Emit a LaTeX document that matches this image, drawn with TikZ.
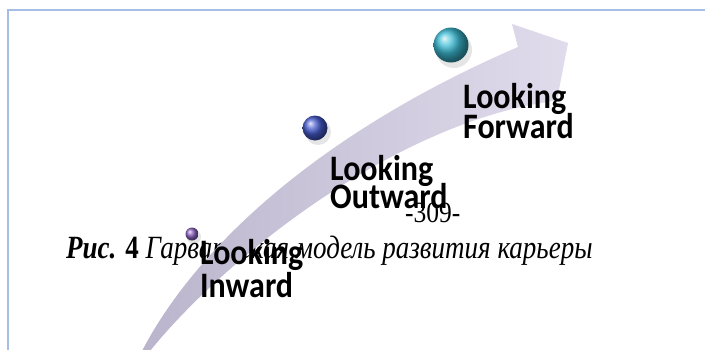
\documentclass[tikz,border=0pt]{standalone}
\usepackage{graphicx}
\usepackage{fontspec}
\setmainfont{Liberation Serif}
\newfontfamily\lblfont{Carlito}
\newcommand\vstretch[2]{\scalebox{1}[#1]{#2}}
\definecolor{framec}{RGB}{166,190,230}
\definecolor{arrowA}{RGB}{186,181,204}
\definecolor{arrowB}{RGB}{224,220,236}
\definecolor{ballP}{RGB}{140,100,192}
\definecolor{ballB}{RGB}{70,90,205}
\definecolor{ballT}{RGB}{60,188,212}
\tikzset{
  lbl/.style={anchor=base west, inner sep=0pt, font=\lblfont\bfseries\fontsize{32}{34}\selectfont},
  captxt/.style={anchor=base west, inner sep=0pt, font=\fontsize{27}{30}\selectfont},
  pagenum/.style={anchor=base west, inner sep=0pt, font=\fontsize{25.5}{28}\selectfont},
  frameline/.style={draw=framec, line width=2pt},
  shadowc/.style={fill=black, opacity=0.10}
}
\begin{document}
\begin{tikzpicture}[x=1pt,y=-1pt]
\useasboundingbox (0,0) rectangle (705,349);
\fill[white] (0,0) rectangle (705,349);
\coordinate (fb) at (8,352);
\coordinate (fc) at (8,10);
\coordinate (fr) at (707,10);
\draw[frameline] (fb) -- (fc) -- (fr);

% caption and page number (underneath the arrow)
\node[captxt] (cap) at (66,258) {\vstretch{1.2}{\textbf{\textit{Рис.}} \textbf{4} \textit{Гарвардская модель развития карьеры}}};
\node[pagenum] (pg) at (405,222) {\vstretch{1.15}{-309-}};

% curved arrow
\path[left color=arrowA, right color=arrowB]
  (142,351) .. controls (200,240) and (330,128) .. (518,47)
  -- (512,24) -- (568,43) -- (557,100) -- (525,106)
  .. controls (370,140) and (215,270) .. (150,351) -- cycle;

% spheres with soft shadows
\fill[shadowc] (194,237) circle[radius=7pt];
\shade[ball color=ballP] (192,234) circle[radius=6.5pt];
\fill[shadowc] (318,132) circle[radius=13pt];
\shade[ball color=ballB] (315,128) circle[radius=12.5pt];
\fill[shadowc] (454,50) circle[radius=18pt];
\shade[ball color=ballT] (451,45) circle[radius=17.5pt];

% labels
\node[lbl] (f1) at (463,108) {\vstretch{1.12}{Looking}};
\node[lbl] (f2) at (463,138) {\vstretch{1.12}{Forward}};
\node[lbl] (o1) at (330,180) {\vstretch{1.12}{Looking}};
\node[lbl] (o2) at (330,208) {\vstretch{1.12}{Outward}};
\node[lbl] (i1) at (200,264) {\vstretch{1.12}{Looking}};
\node[lbl] (i2) at (200,297) {\vstretch{1.12}{Inward}};
\end{tikzpicture}
\end{document}
